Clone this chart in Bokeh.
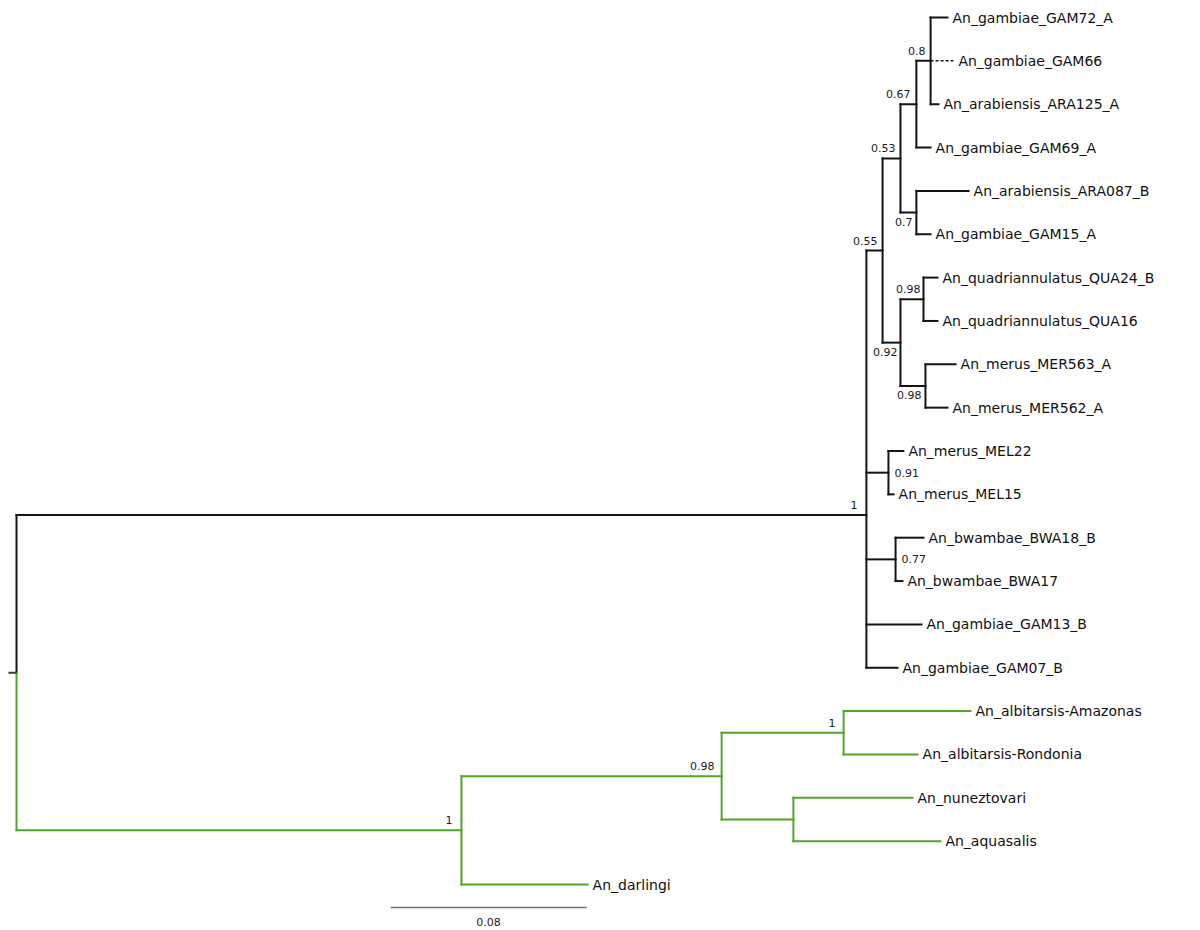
from bokeh.plotting import figure
from bokeh.models import ColumnDataSource, Range1d
from bokeh.core.properties import value
from bokeh.embed import file_html
from bokeh.resources import INLINE

# ---------------- data: tree (parent index, branch length, support) ----------------
node_names = [
    "root", "n_black", "n_055", "n_053", "n_067", "n_08",
    "An_gambiae_GAM72_A", "An_gambiae_GAM66", "An_arabiensis_ARA125_A",
    "An_gambiae_GAM69_A", "n_07", "An_arabiensis_ARA087_B", "An_gambiae_GAM15_A",
    "n_092", "n_098q", "An_quadriannulatus_QUA24_B", "An_quadriannulatus_QUA16",
    "n_098m", "An_merus_MER563_A", "An_merus_MER562_A",
    "n_091", "An_merus_MEL22", "An_merus_MEL15",
    "n_077", "An_bwambae_BWA18_B", "An_bwambae_BWA17",
    "An_gambiae_GAM13_B", "An_gambiae_GAM07_B",
    "n_green", "n_098g", "n_1g", "An_albitarsis-Amazonas", "An_albitarsis-Rondonia",
    "n_nun", "An_nuneztovari", "An_aquasalis", "An_darlingi",
]
parents = [
    -1, 0, 1, 2, 3, 4,
    5, 5, 5,
    4, 3, 10, 10,
    2, 13, 14, 14,
    13, 17, 17,
    1, 20, 20,
    1, 23, 23,
    1, 1,
    0, 28, 29, 30, 30,
    29, 33, 33, 28,
]
branch_lengths = [
    0.0, 0.3469, 0.0066, 0.0073, 0.0065, 0.0058,
    0.0069, 0.0093, 0.0032,
    0.0058, 0.0065, 0.0213, 0.0058,
    0.0073, 0.0094, 0.0057, 0.0057,
    0.0102, 0.0123, 0.0090,
    0.0090, 0.0061, 0.0021,
    0.0119, 0.0114, 0.0028,
    0.0225, 0.0127,
    0.1816, 0.1062, 0.0498, 0.0518, 0.0302,
    0.0293, 0.0486, 0.0600, 0.0515,
]
supports = {
    "n_black": "1", "n_055": "0.55", "n_053": "0.53", "n_067": "0.67", "n_08": "0.8",
    "n_07": "0.7", "n_092": "0.92", "n_098q": "0.98", "n_098m": "0.98",
    "n_091": "0.91", "n_077": "0.77",
    "n_green": "1", "n_098g": "0.98", "n_1g": "1",
}
scale_length = 0.08
scale_label = "0.08"

# ---------------- style ----------------
support_place = {  # where each support value sits relative to its node
    "n_black": ("above", -9), "n_055": ("above", -5), "n_053": ("above", -5),
    "n_067": ("above", -6), "n_08": ("above", -5), "n_07": ("below", -4),
    "n_092": ("below", -3), "n_098q": ("above", -3), "n_098m": ("below", -4),
    "n_091": ("right", 6), "n_077": ("right", 6),
    "n_green": ("above", -9), "n_098g": ("above", -7), "n_1g": ("above", -8),
}
BLACK = "#141414"
GREEN = "#52a528"
FONT = "DejaVu Sans"
dotted_leaf = "An_gambiae_GAM66"

# ---------------- layout computation ----------------
n = len(node_names)
children = [[] for _ in range(n)]
for i, p in enumerate(parents):
    if p >= 0:
        children[p].append(i)

xs = [0.0] * n
for i in range(n):
    if parents[i] >= 0:
        xs[i] = xs[parents[i]] + branch_lengths[i]

ys = [0.0] * n
leaf_counter = [0]


def place(i):
    if not children[i]:
        ys[i] = float(leaf_counter[0])
        leaf_counter[0] += 1
        return
    for c in children[i]:
        place(c)
    ys[i] = sum(ys[c] for c in children[i]) / len(children[i])


place(0)

green_root = node_names.index("n_green")
is_green = [False] * n


def mark(i):
    is_green[i] = True
    for c in children[i]:
        mark(c)


mark(green_root)

seg = dict(x0=[], y0=[], x1=[], y1=[], color=[])
dseg = dict(x0=[], y0=[], x1=[], y1=[], color=[])
for i in range(1, n):
    col = GREEN if is_green[i] else BLACK
    target = dseg if node_names[i] == dotted_leaf else seg
    target["x0"].append(xs[parents[i]]); target["x1"].append(xs[i])
    target["y0"].append(ys[i]); target["y1"].append(ys[i])
    target["color"].append(col)
for i in range(1, n):
    if children[i]:
        cy = [ys[c] for c in children[i]]
        col = GREEN if is_green[i] else BLACK
        seg["x0"].append(xs[i]); seg["x1"].append(xs[i])
        seg["y0"].append(min(cy)); seg["y1"].append(max(cy))
        seg["color"].append(col)
# root vertical, split by clade colour
for c in children[0]:
    seg["x0"].append(0.0); seg["x1"].append(0.0)
    seg["y0"].append(ys[0]); seg["y1"].append(ys[c])
    seg["color"].append(GREEN if is_green[c] else BLACK)

PX_PER_UNIT = 2450.0
PX_PER_LEAF = 43.35
W, H = 1200, 930
x_start = -16 / PX_PER_UNIT
y_top = -17 / PX_PER_LEAF

p = figure(width=W, height=H, output_backend="svg", toolbar_location=None,
           x_range=Range1d(x_start, x_start + W / PX_PER_UNIT),
           y_range=Range1d(y_top + H / PX_PER_LEAF, y_top),
           min_border=0, outline_line_color=None)
p.axis.visible = False
p.grid.visible = False
p.background_fill_color = "white"
p.border_fill_color = "white"

p.segment(x0="x0", y0="y0", x1="x1", y1="y1", color="color",
          source=ColumnDataSource(seg), line_width=2, line_cap="square")
p.segment(x0="x0", y0="y0", x1="x1", y1="y1", color="color",
          source=ColumnDataSource(dseg), line_width=1.5, line_dash="3 2")
# root stub
p.segment(x0=[-8 / PX_PER_UNIT], y0=[ys[0]], x1=[0.0], y1=[ys[0]], color="#3a3a3a", line_width=2)

# leaf labels
leaves = [i for i in range(n) if not children[i]]
p.text(x=[xs[i] for i in leaves], y=[ys[i] for i in leaves],
       text=[node_names[i] for i in leaves], x_offset=5,
       text_font=value(FONT), text_font_size="14px", text_color="#111111",
       text_baseline="middle", text_align="left")

# support labels
groups = {}
for name, lab in supports.items():
    i = node_names.index(name)
    where, dx = support_place[name]
    groups.setdefault(where, dict(x=[], y=[], t=[], dx=[]))
    g = groups[where]
    g["x"].append(xs[i]); g["y"].append(ys[i]); g["t"].append(lab); g["dx"].append(dx)
for where, g in groups.items():
    dy = {"above": -10, "below": 9, "right": 0}[where]
    p.text(x="x", y="y", text="t", x_offset="dx", y_offset=dy,
           source=ColumnDataSource(g),
           text_font=value(FONT), text_font_size="11px", text_color="#1a1a1a",
           text_baseline="middle", text_align="left" if where == "right" else "right")

# scale bar
sb_x = 0.1527
sb_y = 20.53
p.segment(x0=[sb_x], y0=[sb_y], x1=[sb_x + scale_length], y1=[sb_y],
          color="#707070", line_width=1.5)
p.text(x=[sb_x + scale_length / 2], y=[20.87], text=[scale_label],
       text_font=value(FONT), text_font_size="11px", text_color="#1a1a1a",
       text_baseline="middle", text_align="center")

open("out.html", "w").write(file_html(p, INLINE))
